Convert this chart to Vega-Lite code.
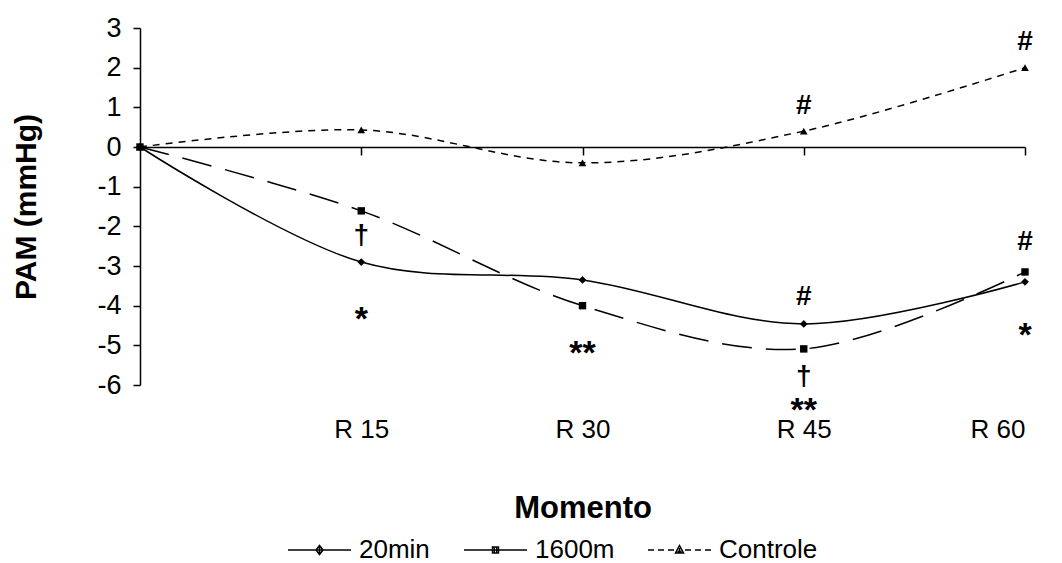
{
  "$schema": "https://vega.github.io/schema/vega-lite/v6.json",
  "width": 885,
  "height": 357,
  "autosize": {"type": "none"},
  "padding": {"left": 140, "top": 28, "right": 37, "bottom": 178},
  "background": "white",
  "config": {
    "font": "Liberation Sans",
    "view": {"stroke": null},
    "axis": {"grid": false}
  },
  "datasets": {
    "series": [
      {"momento": 0, "pam": 0, "grupo": "20min"},
      {"momento": 15, "pam": -2.9, "grupo": "20min"},
      {"momento": 30, "pam": -3.35, "grupo": "20min"},
      {"momento": 45, "pam": -4.46, "grupo": "20min"},
      {"momento": 60, "pam": -3.4, "grupo": "20min"},
      {"momento": 0, "pam": 0, "grupo": "1600m"},
      {"momento": 15, "pam": -1.61, "grupo": "1600m"},
      {"momento": 30, "pam": -4.0, "grupo": "1600m"},
      {"momento": 45, "pam": -5.09, "grupo": "1600m"},
      {"momento": 60, "pam": -3.15, "grupo": "1600m"},
      {"momento": 0, "pam": 0, "grupo": "Controle"},
      {"momento": 15, "pam": 0.43, "grupo": "Controle"},
      {"momento": 30, "pam": -0.4, "grupo": "Controle"},
      {"momento": 45, "pam": 0.4, "grupo": "Controle"},
      {"momento": 60, "pam": 2.0, "grupo": "Controle"}
    ],
    "notes": [
      {"momento": 15, "pam": -2.24, "sinal": "†"},
      {"momento": 15, "pam": -4.13, "sinal": "*"},
      {"momento": 30, "pam": -5.0, "sinal": "**"},
      {"momento": 45, "pam": 1.03, "sinal": "#"},
      {"momento": 45, "pam": -3.78, "sinal": "#"},
      {"momento": 45, "pam": -5.79, "sinal": "†"},
      {"momento": 45, "pam": -6.42, "sinal": "**"},
      {"momento": 60, "pam": 2.64, "sinal": "#"},
      {"momento": 60, "pam": -2.39, "sinal": "#"},
      {"momento": 60, "pam": -4.53, "sinal": "*"}
    ]
  },
  "encoding": {
    "y": {
      "field": "pam", "type": "quantitative",
      "scale": {"domain": [-6, 3], "nice": false, "zero": false},
      "axis": {
        "values": [-6, -5, -4, -3, -2, -1, 0, 1, 2, 3],
        "labelExpr": "'' + datum.value",
        "labelOverlap": false,
        "domainColor": "black", "domainWidth": 1.5,
        "tickColor": "black", "tickWidth": 1.5, "tickSize": 7,
        "labelFontSize": 27, "labelColor": "black", "labelPadding": 12,
        "title": "PAM (mmHg)", "titleFontSize": 30, "titleFontWeight": "bold",
        "titleColor": "black", "titlePadding": 55
      }
    }
  },
  "layer": [
    {
      "data": {"name": "series"},
      "transform": [{"filter": "datum.grupo == '20min'"}],
      "mark": {"type": "line", "interpolate": "catmull-rom", "color": "black", "strokeWidth": 1.5},
      "encoding": {
        "x": {
          "field": "momento", "type": "quantitative",
          "scale": {"domain": [0, 60], "nice": false, "zero": false},
          "axis": {
            "orient": "bottom", "offset": -238, "values": [15, 30, 45, 60],
            "labels": false, "title": null,
            "domainColor": "black", "domainWidth": 1.5,
            "tickColor": "black", "tickWidth": 1.5, "tickSize": 8
          }
        }
      }
    },
    {
      "data": {"name": "series"},
      "transform": [{"filter": "datum.grupo == '1600m'"}],
      "mark": {"type": "line", "interpolate": "catmull-rom", "color": "black", "strokeWidth": 1.5, "strokeDash": [30, 14]},
      "encoding": {
        "x": {"field": "momento", "type": "quantitative", "axis": null}
      }
    },
    {
      "data": {"name": "series"},
      "transform": [{"filter": "datum.grupo == 'Controle'"}],
      "mark": {"type": "line", "interpolate": "catmull-rom", "color": "black", "strokeWidth": 1.5, "strokeDash": [7, 6]},
      "encoding": {
        "x": {"field": "momento", "type": "quantitative", "axis": null}
      }
    },
    {
      "data": {"name": "series"},
      "transform": [{"filter": "datum.grupo == '20min'"}],
      "mark": {"type": "point", "filled": true, "color": "black", "opacity": 1, "size": 60, "shape": "diamond"},
      "encoding": {
        "x": {
          "field": "momento", "type": "quantitative",
          "axis": {
            "orient": "bottom", "values": [15, 30, 45, 60],
            "domain": false, "ticks": false,
            "labelExpr": "'R ' + datum.value",
            "labelFontSize": 26, "labelColor": "black", "labelPadding": 31,
            "title": "Momento", "titleFontSize": 31, "titleFontWeight": "bold",
            "titleColor": "black", "titlePadding": 51
          }
        }
      }
    },
    {
      "data": {"name": "series"},
      "transform": [{"filter": "datum.grupo == '1600m'"}],
      "mark": {"type": "point", "filled": true, "color": "black", "opacity": 1, "size": 55, "shape": "square"},
      "encoding": {
        "x": {"field": "momento", "type": "quantitative", "axis": null}
      }
    },
    {
      "data": {"name": "series"},
      "transform": [{"filter": "datum.grupo == 'Controle'"}],
      "mark": {"type": "point", "filled": true, "color": "black", "opacity": 1, "size": 60, "shape": "triangle-up"},
      "encoding": {
        "x": {"field": "momento", "type": "quantitative", "axis": null}
      }
    },
    {
      "data": {"name": "series"},
      "mark": {"type": "point", "filled": false, "color": "black", "opacity": 1, "size": 0, "strokeWidth": 1.5},
      "encoding": {
        "x": {"field": "momento", "type": "quantitative", "axis": null},
        "shape": {
          "field": "grupo", "type": "nominal",
          "scale": {
            "domain": ["20min", "1600m", "Controle"],
            "range": [
              "M-3.15,0H3.15M0,-0.45L0.35,0L0,0.45L-0.35,0ZM0,-0.3V0.3M-0.2,0H0.2",
              "M-3.15,0H3.15M-0.3,-0.3H0.3V0.3H-0.3ZM-0.12,-0.3V0.3M0.12,-0.3V0.3",
              "M-3.15,0H-2.55M-2.15,0H-1.55M-1.15,0H-0.55M0.55,0H1.15M1.55,0H2.15M2.55,0H3.15M0,-0.45L0.4,0.3L-0.4,0.3ZM0,-0.2V0.3M-0.2,0.15H0.2"
            ]
          },
          "legend": {
            "title": null,
            "orient": "none",
            "direction": "horizontal",
            "legendX": 166.5,
            "legendY": 509,
            "symbolSize": 400,
            "symbolStrokeWidth": 1.5,
            "symbolStrokeColor": "black",
            "symbolFillColor": "black",
            "labelFontSize": 26,
            "labelColor": "black",
            "labelOffset": 26.5,
            "columnPadding": 30,
            "encode": {
              "symbols": {
                "size": {"value": 400},
                "fill": {"value": "black"},
                "stroke": {"value": "black"},
                "strokeWidth": {"value": 1.5},
                "opacity": {"value": 1}
              }
            }
          }
        }
      }
    },
    {
      "data": {"name": "notes"},
      "transform": [{"filter": "indexof(datum.sinal, '*') < 0"}],
      "mark": {"type": "text", "font": "Liberation Sans", "fontWeight": "bold", "fontSize": 28, "color": "black", "baseline": "middle", "align": "center"},
      "encoding": {
        "x": {"field": "momento", "type": "quantitative", "axis": null},
        "text": {"field": "sinal"}
      }
    },
    {
      "data": {"name": "notes"},
      "transform": [{"filter": "indexof(datum.sinal, '*') >= 0"}],
      "mark": {"type": "text", "font": "Liberation Sans", "fontWeight": "bold", "fontSize": 34, "color": "black", "baseline": "alphabetic", "align": "center", "dy": 19},
      "encoding": {
        "x": {"field": "momento", "type": "quantitative", "axis": null},
        "text": {"field": "sinal"}
      }
    }
  ],
  "resolve": {"axis": {"x": "independent"}}
}
